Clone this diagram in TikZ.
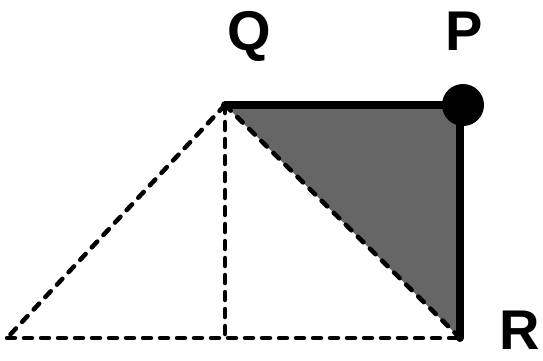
\documentclass[tikz,border=0pt]{standalone}
\usepackage{fontspec}
\setmainfont{Liberation Sans}
\begin{document}
\begin{tikzpicture}[x=1pt,y=-1pt,
  dashline/.style={line width=4.5pt,dash pattern=on 8pt off 9pt,line cap=round},
  thickline/.style={line width=8pt,line cap=round,line join=round},
  lbl/.style={font=\fontsize{56}{58}\selectfont\bfseries,inner sep=0pt,anchor=base}]
\useasboundingbox (0,0) rectangle (543,360);
\coordinate (Q) at (225,105);
\coordinate (P) at (460,105);
\coordinate (R) at (460,338);
\coordinate (L) at (7,338);
\coordinate (M) at (225,338);
\fill[fill={rgb,255:red,102;green,102;blue,102}] (Q) -- (P) -- (R) -- cycle;
\draw[dashline] (Q) -- (L);
\draw[dashline] (L) -- (R);
\draw[dashline] (Q) -- (M);
\draw[dashline] (Q) -- (R);
\draw[thickline] (Q) -- (P) -- (R);
\fill (463,105) circle (21);
\node[lbl] (lq) at (249,50) {Q};
\node[lbl] (lp) at (464,50) {P};
\node[lbl] (lr) at (520,349) {R};
\end{tikzpicture}
\end{document}
